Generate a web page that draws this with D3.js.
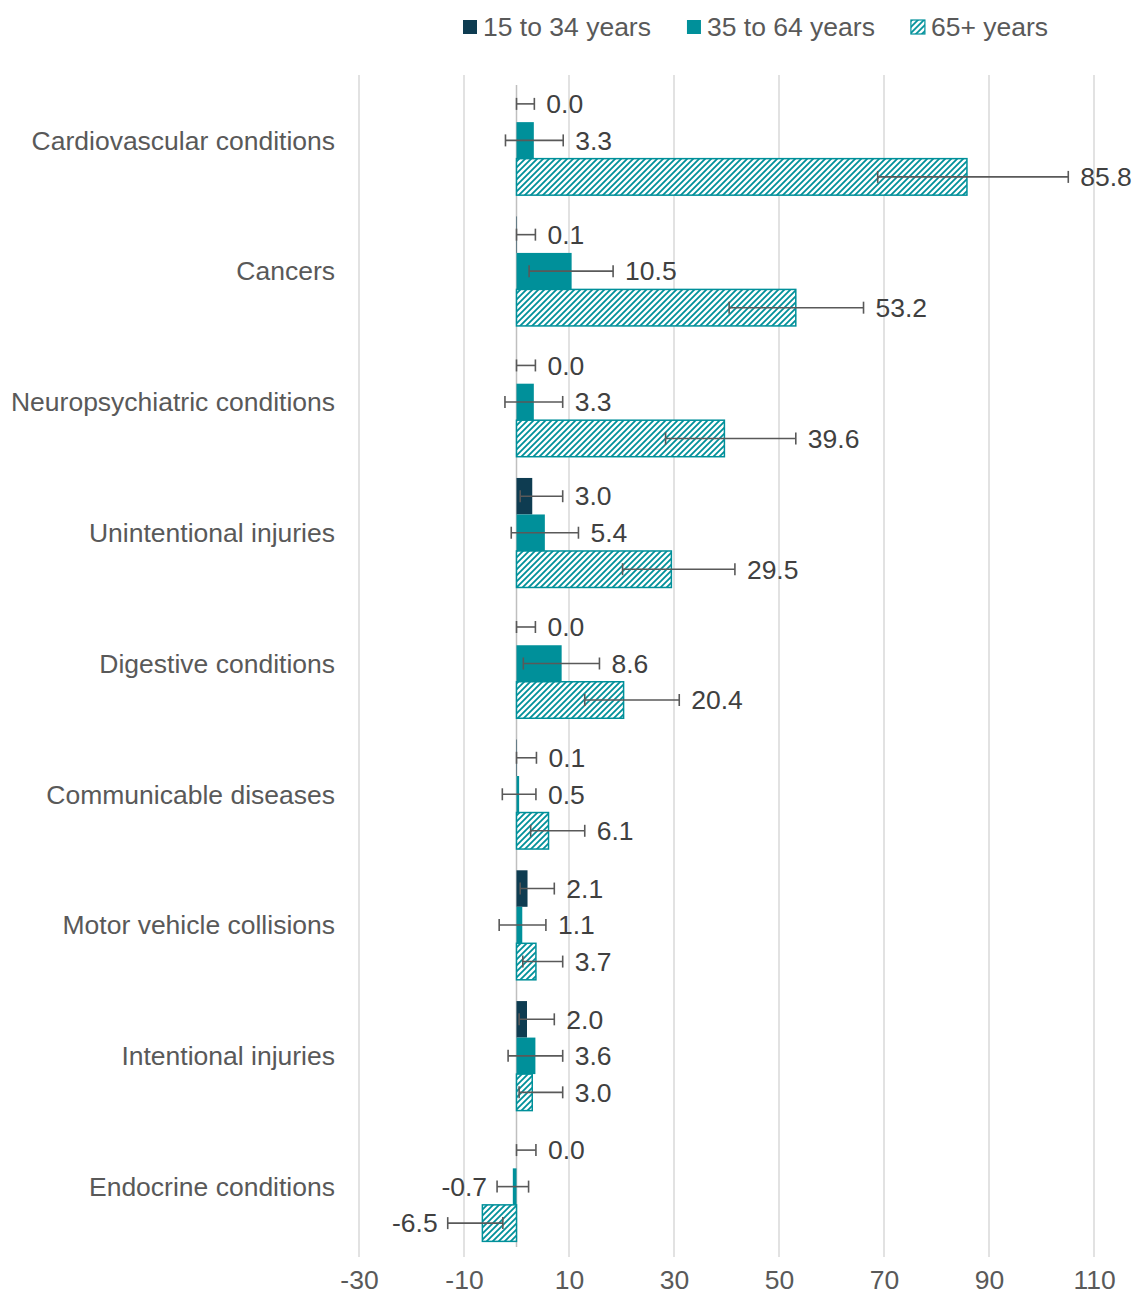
<!DOCTYPE html>
<html>
<head>
<meta charset="utf-8">
<script src="https://cdn.jsdelivr.net/npm/d3@7"></script>
<style>
  html, body { margin: 0; padding: 0; background: #fff; }
  svg { display: block; font-family: "Liberation Sans", Arial, sans-serif; }
</style>
</head>
<body>
<svg id="chart" width="1135" height="1294"></svg>
<script>
// Causes of death, by age group, with confidence intervals
const categories = [
  "Cardiovascular conditions", "Cancers", "Neuropsychiatric conditions",
  "Unintentional injuries", "Digestive conditions", "Communicable diseases",
  "Motor vehicle collisions", "Intentional injuries", "Endocrine conditions"
];
const seriesNames = ["15 to 34 years", "35 to 64 years", "65+ years"];

const age15to34 = [0.0, 0.1, 0.0, 3.0, 0.0, 0.1, 2.1, 2.0, 0.0];
const age35to64 = [3.3, 10.5, 3.3, 5.4, 8.6, 0.5, 1.1, 3.6, -0.7];
const age65plus = [85.8, 53.2, 39.6, 29.5, 20.4, 6.1, 3.7, 3.0, -6.5];

// lower / upper bounds of the intervals
const low15to34  = [0.0, 0.0, 0.0, 0.7, 0.0, 0.0, 0.7, 0.5, 0.0];
const high15to34 = [3.4, 3.6, 3.6, 8.8, 3.6, 3.8, 7.2, 7.2, 3.7];
const low35to64  = [-2.1, 2.4, -2.2, -1.0, 1.3, -2.7, -3.3, -1.6, -3.7];
const high35to64 = [8.9, 18.4, 8.8, 11.8, 15.8, 3.7, 5.6, 8.8, 2.3];
const low65plus  = [68.8, 40.5, 28.4, 20.2, 13.0, 2.7, 1.2, 0.5, -13.1];
const high65plus = [105.1, 66.1, 53.2, 41.6, 31.0, 13.0, 8.8, 8.8, -2.6];

const tickValues = [-30, -10, 10, 30, 50, 70, 90, 110];

const seriesValues = [age15to34, age35to64, age65plus];
const seriesLow = [low15to34, low35to64, low65plus];
const seriesHigh = [high15to34, high35to64, high65plus];

const teal = "#00909a";
const navy = "#0e3c51";
const textGrey = "#595959";
const labelGrey = "#404040";
const fontSize = 26.5;

// plain hyphen for negatives
const fmt1 = v => d3.format(".1f")(v).replace("\u2212", "-");
const fmt0 = v => d3.format("d")(v).replace("\u2212", "-");

const svg = d3.select("#chart");

const defs = svg.append("defs");
const pat = defs.append("pattern")
  .attr("id", "hatch")
  .attr("patternUnits", "userSpaceOnUse")
  .attr("width", 6).attr("height", 6);
pat.append("rect").attr("width", 6).attr("height", 6).attr("fill", "#fff");
pat.append("path")
  .attr("d", "M-1,1 l2,-2 M0,6 l6,-6 M5,7 l2,-2")
  .attr("stroke", teal).attr("stroke-width", 1.8);

const plotTop = 75, plotBottom = 1252;
const x = d3.scaleLinear().domain([-30, 110]).range([359, 1094]);

const y = d3.scaleBand()
  .domain(categories)
  .range([plotTop, plotBottom])
  .paddingInner(0.1625)
  .paddingOuter(0.08125);

const yInner = d3.scaleBand()
  .domain(seriesNames)
  .range([0, y.bandwidth()]);

// gridlines
svg.append("g")
  .selectAll("line")
  .data(tickValues)
  .join("line")
  .attr("x1", d => x(d)).attr("x2", d => x(d))
  .attr("y1", plotTop).attr("y2", plotBottom + 5)
  .attr("stroke", "#d9d9d9").attr("stroke-width", 1.5);

// tick labels via d3 axis
const xAxis = d3.axisBottom(x).tickValues(tickValues).tickSize(0).tickPadding(0)
  .tickFormat(fmt0);
const axisG = svg.append("g")
  .attr("transform", `translate(0, ${1280})`)
  .call(xAxis);
axisG.select(".domain").remove();
axisG.selectAll("text")
  .attr("dy", "0.35em")
  .attr("font-size", fontSize)
  .attr("font-family", "\"Liberation Sans\", Arial, sans-serif")
  .attr("fill", textGrey);

// zero line
svg.append("line")
  .attr("x1", x(0)).attr("x2", x(0))
  .attr("y1", plotTop + 10).attr("y2", plotBottom - 5)
  .attr("stroke", "#bfbfbf").attr("stroke-width", 1.5);

// category labels
svg.append("g")
  .selectAll("text")
  .data(categories)
  .join("text")
  .attr("x", 335)
  .attr("y", d => y(d) + y.bandwidth() / 2)
  .attr("dy", "0.35em")
  .attr("text-anchor", "end")
  .attr("font-size", fontSize)
  .attr("fill", textGrey)
  .text(d => d);

const fills = [navy, teal, "url(#hatch)"];

seriesNames.forEach((name, si) => {
  const g = svg.append("g");
  const rows = categories.map((c, i) => ({
    c, v: seriesValues[si][i], lo: seriesLow[si][i], hi: seriesHigh[si][i]
  }));
  const bh = yInner.bandwidth();
  const y0 = d => y(d.c) + yInner(name);

  g.selectAll("rect")
    .data(rows)
    .join("rect")
    .attr("x", d => x(Math.min(0, d.v)))
    .attr("y", d => y0(d))
    .attr("width", d => Math.abs(x(d.v) - x(0)))
    .attr("height", bh)
    .attr("fill", fills[si])
    .attr("stroke", si === 2 ? teal : "none")
    .attr("stroke-width", si === 2 ? 1.5 : 0);

  // error bars
  const eb = g.selectAll("g.err").data(rows).join("g").attr("class", "err");
  const cy = d => y0(d) + bh / 2;
  eb.append("line")
    .attr("x1", d => x(d.lo)).attr("x2", d => x(d.hi))
    .attr("y1", cy).attr("y2", cy);
  eb.append("line")
    .attr("x1", d => x(d.lo)).attr("x2", d => x(d.lo))
    .attr("y1", d => cy(d) - 6).attr("y2", d => cy(d) + 6);
  eb.append("line")
    .attr("x1", d => x(d.hi)).attr("x2", d => x(d.hi))
    .attr("y1", d => cy(d) - 6).attr("y2", d => cy(d) + 6);
  eb.selectAll("line").attr("stroke", "#595959").attr("stroke-width", 1.6);

  // value labels
  g.selectAll("text")
    .data(rows)
    .join("text")
    .attr("x", d => d.v < 0 ? x(d.lo) - 10 : x(d.hi) + 12)
    .attr("y", d => cy(d))
    .attr("dy", "0.35em")
    .attr("text-anchor", d => d.v < 0 ? "end" : "start")
    .attr("font-size", fontSize)
    .attr("fill", labelGrey)
    .text(d => fmt1(d.v));
});

// legend
const legend = svg.append("g").attr("transform", "translate(463, 27)");
let lx = 0;
seriesNames.forEach((name, i) => {
  const item = legend.append("g").attr("transform", `translate(${lx},0)`);
  item.append("rect")
    .attr("x", 0).attr("y", -7).attr("width", 14).attr("height", 14)
    .attr("fill", fills[i])
    .attr("stroke", i === 2 ? teal : "none").attr("stroke-width", 1.2);
  const t = item.append("text")
    .attr("x", 20).attr("y", 0).attr("dy", "0.35em")
    .attr("font-size", fontSize).attr("fill", textGrey)
    .text(name);
  lx += 20 + t.node().getComputedTextLength() + 36;
});
</script>
</body>
</html>
